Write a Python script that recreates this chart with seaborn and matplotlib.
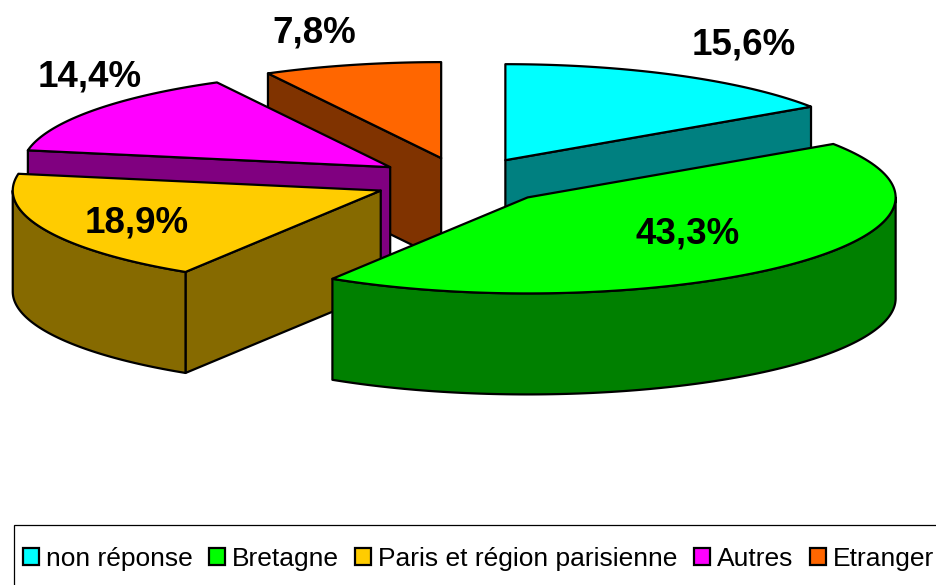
import numpy as np
import matplotlib
matplotlib.use("Agg")
import matplotlib.pyplot as plt
from matplotlib.patches import Patch, Polygon, Rectangle
import seaborn as sns

categories = ["non réponse", "Bretagne", "Paris et région parisienne", "Autres", "Etranger"]
values = [15.6, 43.3, 18.9, 14.4, 7.8]
value_labels = ["15,6%", "43,3%", "18,9%", "14,4%", "7,8%"]
top_colors = ["#00FFFF", "#00FF00", "#FFCC00", "#FF00FF", "#FF6600"]
side_colors = ["#008080", "#008000", "#866A00", "#800080", "#803300"]

sns.set_theme(style="white")
plt.rcParams["font.family"] = ["Liberation Sans", "DejaVu Sans"]

CX, CY, RX, RY, DEPTH = 463, 181, 368, 96, 101
EX, EY = 90, 23.6
draw_order = [4, 0, 3, 2, 1]
label_pos = [(744, 45), (688, 234), (137, 223), (90, 77), (314, 33)]

fig = plt.figure(figsize=(9.36, 5.85), dpi=100)
ax = fig.add_axes([0, 0, 1, 1])
ax.set_xlim(0, 936)
ax.set_ylim(585, 0)
ax.axis("off")

edges = np.concatenate([[0], np.cumsum(values)]) * 360 / 100
style = dict(edgecolor="black", linewidth=1.6, joinstyle="round")
drop = np.array([0, DEPTH])


def rim(x0, y0, a, b):
    th = np.radians(np.linspace(a, b, 120))
    return np.column_stack([x0 + RX * np.sin(th), y0 - RY * np.cos(th)])


for i in draw_order:
    a0, a1 = edges[i], edges[i + 1]
    mid = np.radians((a0 + a1) / 2)
    x0 = CX + EX * np.sin(mid)
    y0 = CY - EY * np.cos(mid)
    arc = rim(x0, y0, a0, a1)
    # cut faces that turn towards the viewer
    if 90 < (a1 + 90) % 360 < 270:
        end = arc[-1]
        ax.add_patch(Polygon([(x0, y0), end, end + drop, (x0, y0 + DEPTH)],
                             closed=True, facecolor=side_colors[i], **style))
    if 90 < (a0 - 90) % 360 < 270:
        end = arc[0]
        ax.add_patch(Polygon([(x0, y0), end, end + drop, (x0, y0 + DEPTH)],
                             closed=True, facecolor=side_colors[i], **style))
    # outer wall: only the front half of the rim shows
    lo, hi = max(a0, 90), min(a1, 270)
    if lo < hi:
        front = rim(x0, y0, lo, hi)
        ax.add_patch(Polygon(np.vstack([front, (front + drop)[::-1]]), closed=True,
                             facecolor=side_colors[i], **style))
    ax.add_patch(Polygon(np.vstack([[(x0, y0)], arc]), closed=True,
                         facecolor=top_colors[i], **style))

for lab, (lx, ly) in zip(value_labels, label_pos):
    ax.text(lx, ly, lab, ha="center", va="center", fontsize=26.5,
            fontweight="bold", color="black")

ax.add_patch(Rectangle((14, 525), 940, 80, facecolor="white", edgecolor="black",
                       linewidth=0.9, clip_on=True))
handles = [Patch(facecolor=c, edgecolor="black", linewidth=1.6) for c in top_colors]
leg = ax.legend(handles, categories, ncol=5, loc="center left",
                bbox_to_anchor=(14, 559), bbox_transform=ax.transData,
                fontsize=19, frameon=False, labelcolor="black",
                handlelength=0.6, handleheight=0.62, handletextpad=0.27,
                columnspacing=0.62, borderpad=0.34, borderaxespad=0)

fig.savefig("out.png", dpi=100)
